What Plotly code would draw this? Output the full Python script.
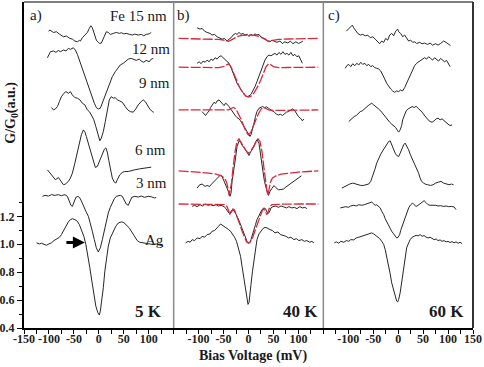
import plotly.graph_objects as go

# Tunneling conductance G/G0 vs bias (mV), curves.
# Each curve is a list of (bias mV, G/G0) pairs, already offset as plotted.

# ---- a) 5 K ----
a_fe15 = [(-101, 2.526), (-98, 2.534), (-91, 2.517), (-85, 2.522), (-79, 2.505), (-75, 2.498),
          (-71, 2.486), (-65, 2.491), (-58, 2.474), (-53, 2.469), (-48, 2.455), (-43, 2.450),
          (-39, 2.460), (-37, 2.455), (-33, 2.479), (-28, 2.498), (-23, 2.517), (-19, 2.546),
          (-16, 2.565), (-13, 2.550), (-9, 2.510), (-5, 2.462), (-1, 2.446), (2, 2.438),
          (5, 2.441), (9, 2.474), (12, 2.510), (15, 2.522), (19, 2.517), (23, 2.503),
          (29, 2.510), (35, 2.517), (41, 2.510), (45, 2.515), (50, 2.507), (55, 2.510),
          (62, 2.503), (67, 2.498), (72, 2.505), (79, 2.498), (85, 2.503), (90, 2.493),
          (95, 2.503), (101, 2.507), (105, 2.517)]
a_12 = [(-103, 2.336), (-99, 2.367), (-97, 2.379), (-91, 2.384), (-86, 2.374), (-81, 2.388),
        (-77, 2.379), (-71, 2.391), (-66, 2.384), (-61, 2.403), (-57, 2.396), (-51, 2.407),
        (-47, 2.391), (-43, 2.360), (-39, 2.319), (-35, 2.272), (-30, 2.224), (-26, 2.176),
        (-21, 2.141), (-17, 2.093), (-13, 2.046), (-9, 2.010), (-5, 1.979), (-1, 1.969),
        (3, 1.974), (7, 2.010), (12, 2.057), (17, 2.105), (22, 2.153), (27, 2.200),
        (33, 2.236), (38, 2.260), (43, 2.284), (49, 2.296), (54, 2.312), (59, 2.326),
        (65, 2.331), (70, 2.324), (75, 2.317), (81, 2.326), (85, 2.312), (90, 2.303),
        (95, 2.317), (101, 2.307), (105, 2.326), (109, 2.331)]
a_9 = [(-95, 1.979), (-91, 1.962), (-87, 1.969), (-83, 1.986), (-79, 2.022), (-75, 2.057),
       (-70, 2.081), (-66, 2.093), (-61, 2.081), (-57, 2.093), (-53, 2.069), (-48, 2.050),
       (-43, 2.046), (-38, 2.034), (-33, 2.010), (-28, 1.998), (-23, 1.962), (-19, 1.950),
       (-15, 1.926), (-10, 1.891), (-6, 1.843), (-2, 1.784), (2, 1.741), (5, 1.760),
       (9, 1.807), (13, 1.879), (17, 1.974), (21, 2.034), (25, 2.057), (29, 2.046),
       (33, 2.050), (37, 2.034), (42, 2.026), (47, 2.017), (53, 1.986), (58, 1.962),
       (63, 1.950), (69, 1.946), (74, 1.969), (79, 1.998), (85, 2.022), (89, 2.034),
       (93, 2.022), (97, 1.993), (102, 1.969), (107, 1.950), (110, 1.946)]
a_6 = [(-103, 1.533), (-98, 1.509), (-91, 1.474), (-87, 1.462), (-81, 1.478), (-76, 1.455),
       (-71, 1.426), (-67, 1.431), (-61, 1.450), (-57, 1.474), (-53, 1.509), (-48, 1.581),
       (-43, 1.664), (-39, 1.736), (-35, 1.784), (-31, 1.819), (-28, 1.805), (-25, 1.771),
       (-20, 1.712), (-16, 1.652), (-11, 1.593), (-7, 1.550), (-3, 1.557), (2, 1.605),
       (7, 1.640), (11, 1.680), (14, 1.690), (17, 1.660), (20, 1.600), (23, 1.540),
       (27, 1.474), (31, 1.445), (34, 1.438), (37, 1.462), (42, 1.497), (47, 1.514),
       (52, 1.521), (59, 1.521), (65, 1.528), (72, 1.533), (82, 1.540), (92, 1.545),
       (99, 1.550), (105, 1.552)]
a_3 = [(-113, 1.343), (-108, 1.350), (-101, 1.345), (-95, 1.355), (-88, 1.350), (-81, 1.355),
       (-75, 1.348), (-68, 1.355), (-63, 1.343), (-59, 1.312), (-56, 1.279), (-53, 1.271),
       (-49, 1.302), (-46, 1.336), (-42, 1.343), (-38, 1.331), (-34, 1.302), (-30, 1.264),
       (-26, 1.236), (-21, 1.200), (-17, 1.152), (-13, 1.093), (-9, 1.033), (-5, 0.974),
       (-1, 0.945), (3, 0.974), (7, 1.033), (11, 1.105), (15, 1.176), (19, 1.224),
       (23, 1.264), (27, 1.295), (31, 1.326), (35, 1.343), (39, 1.345), (43, 1.350),
       (47, 1.343), (51, 1.319), (55, 1.288), (59, 1.279), (62, 1.307), (66, 1.336),
       (72, 1.343), (79, 1.338), (85, 1.345), (92, 1.336), (99, 1.343), (105, 1.340),
       (112, 1.331), (115, 1.336)]
a_ag = [(-125, 1.010), (-119, 1.002), (-115, 1.007), (-110, 0.998), (-105, 0.993), (-100, 1.002),
        (-95, 1.010), (-90, 1.026), (-85, 1.040), (-79, 1.050), (-75, 1.069), (-70, 1.105),
        (-66, 1.129), (-61, 1.160), (-57, 1.176), (-53, 1.183), (-48, 1.176), (-43, 1.164),
        (-39, 1.140), (-35, 1.105), (-30, 1.057), (-26, 0.998), (-22, 0.926), (-18, 0.831),
        (-14, 0.736), (-10, 0.640), (-6, 0.557), (-2, 0.510), (1, 0.493), (3, 0.521),
        (6, 0.593), (9, 0.688), (12, 0.807), (15, 0.902), (19, 0.986), (23, 1.045),
        (29, 1.093), (34, 1.129), (39, 1.152), (45, 1.160), (50, 1.155), (55, 1.140),
        (61, 1.117), (66, 1.088), (71, 1.057), (77, 1.026), (82, 1.014), (89, 1.010),
        (95, 1.005), (102, 1.002), (109, 0.998), (115, 1.002), (122, 0.993), (129, 0.986)]

# ---- b) 40 K ----
b_fe15 = [(-103, 2.550), (-97, 2.541), (-93, 2.546), (-88, 2.526), (-83, 2.517), (-77, 2.510),
          (-73, 2.498), (-68, 2.503), (-63, 2.486), (-57, 2.474), (-53, 2.469), (-48, 2.474),
          (-43, 2.455), (-39, 2.469), (-35, 2.479), (-31, 2.498), (-26, 2.510), (-23, 2.503),
          (-19, 2.517), (-15, 2.503), (-11, 2.510), (-7, 2.498), (-3, 2.505), (1, 2.488),
          (5, 2.503), (9, 2.493), (13, 2.507), (17, 2.498), (21, 2.503), (25, 2.484),
          (29, 2.479), (34, 2.469), (39, 2.455), (43, 2.450), (47, 2.462), (52, 2.455),
          (57, 2.446), (63, 2.455), (68, 2.438), (73, 2.450), (79, 2.441), (84, 2.455),
          (89, 2.436), (95, 2.450), (100, 2.438), (105, 2.446), (109, 2.455)]
b_12 = [(-103, 2.296), (-99, 2.307), (-95, 2.293), (-91, 2.312), (-87, 2.303), (-83, 2.319),
        (-79, 2.307), (-75, 2.326), (-71, 2.317), (-67, 2.336), (-63, 2.326), (-59, 2.343),
        (-55, 2.350), (-51, 2.336), (-47, 2.326), (-43, 2.312), (-39, 2.296), (-35, 2.265),
        (-31, 2.224), (-27, 2.184), (-23, 2.153), (-19, 2.129), (-15, 2.105), (-11, 2.081),
        (-7, 2.065), (-3, 2.057), (1, 2.062), (5, 2.074), (9, 2.098), (13, 2.129),
        (17, 2.165), (21, 2.207), (25, 2.248), (29, 2.288), (33, 2.319), (37, 2.343),
        (41, 2.355), (45, 2.350), (49, 2.360), (53, 2.367), (57, 2.355), (61, 2.374),
        (65, 2.360), (69, 2.379), (73, 2.360), (77, 2.367), (81, 2.355), (85, 2.374),
        (89, 2.350), (93, 2.360), (97, 2.343), (101, 2.350), (105, 2.319), (108, 2.296)]
b_9 = [(-93, 1.950), (-89, 1.931), (-86, 1.922), (-83, 1.938), (-79, 1.955), (-76, 1.979),
       (-73, 1.998), (-69, 2.017), (-66, 2.007), (-63, 2.026), (-59, 2.034), (-56, 2.022),
       (-53, 2.003), (-49, 1.993), (-46, 2.010), (-43, 2.003), (-39, 1.986), (-36, 1.969),
       (-33, 1.950), (-29, 1.926), (-26, 1.919), (-23, 1.907), (-19, 1.898), (-16, 1.884),
       (-13, 1.867), (-9, 1.850), (-6, 1.831), (-3, 1.812), (1, 1.788), (3, 1.772),
       (5, 1.784), (8, 1.819), (11, 1.867), (14, 1.915), (17, 1.950), (21, 1.974),
       (24, 1.979), (28, 1.986), (32, 1.979), (36, 1.984), (40, 1.974), (44, 1.962),
       (48, 1.955), (52, 1.946), (56, 1.931), (60, 1.926), (64, 1.931), (68, 1.922),
       (72, 1.936), (76, 1.946), (80, 1.950), (84, 1.962), (88, 1.969), (92, 1.960),
       (96, 1.938), (100, 1.915), (104, 1.903), (108, 1.884), (111, 1.898)]
b_6 = [(-103, 1.402), (-98, 1.426), (-93, 1.431), (-87, 1.414), (-83, 1.421), (-78, 1.414),
       (-74, 1.431), (-69, 1.450), (-65, 1.469), (-61, 1.479), (-56, 1.497), (-53, 1.486),
       (-49, 1.455), (-46, 1.426), (-43, 1.407), (-39, 1.367), (-37, 1.343), (-35, 1.367),
       (-33, 1.450), (-29, 1.533), (-26, 1.617), (-23, 1.700), (-19, 1.740), (-16, 1.736),
       (-13, 1.707), (-9, 1.693), (-6, 1.676), (-3, 1.652), (1, 1.636), (4, 1.659),
       (7, 1.676), (11, 1.700), (14, 1.731), (17, 1.748), (21, 1.724), (23, 1.664),
       (26, 1.593), (29, 1.521), (32, 1.450), (35, 1.402), (38, 1.367), (40, 1.350),
       (43, 1.379), (47, 1.400), (51, 1.420), (55, 1.405), (60, 1.390), (65, 1.392),
       (70, 1.395), (75, 1.410), (81, 1.426), (87, 1.445), (94, 1.462), (101, 1.478),
       (106, 1.490)]
b_3 = [(-113, 1.271), (-108, 1.279), (-103, 1.269), (-97, 1.283), (-92, 1.274), (-87, 1.288),
       (-81, 1.279), (-76, 1.283), (-71, 1.276), (-65, 1.283), (-60, 1.274), (-55, 1.279),
       (-49, 1.269), (-45, 1.255), (-41, 1.231), (-37, 1.217), (-35, 1.236), (-32, 1.248),
       (-29, 1.240), (-26, 1.224), (-23, 1.200), (-19, 1.169), (-16, 1.140), (-13, 1.105),
       (-9, 1.074), (-6, 1.045), (-3, 1.021), (0, 1.007), (3, 1.014), (5, 1.033),
       (8, 1.064), (11, 1.098), (14, 1.140), (17, 1.176), (21, 1.207), (24, 1.231),
       (27, 1.248), (31, 1.260), (34, 1.255), (37, 1.231), (40, 1.221), (43, 1.240),
       (45, 1.260), (49, 1.269), (55, 1.274), (60, 1.264), (65, 1.274), (71, 1.267),
       (76, 1.260), (81, 1.269), (87, 1.260), (92, 1.264), (97, 1.255), (103, 1.269),
       (108, 1.260), (113, 1.264), (117, 1.255)]
b_ag = [(-126, 1.010), (-121, 1.021), (-117, 1.014), (-113, 1.033), (-108, 1.026), (-103, 1.045),
        (-97, 1.040), (-93, 1.057), (-88, 1.050), (-83, 1.069), (-77, 1.074), (-73, 1.093),
        (-68, 1.098), (-64, 1.117), (-60, 1.129), (-56, 1.145), (-52, 1.136), (-48, 1.121),
        (-44, 1.117), (-40, 1.105), (-36, 1.093), (-32, 1.074), (-28, 1.050), (-24, 1.021),
        (-20, 0.974), (-16, 0.914), (-13, 0.843), (-9, 0.760), (-6, 0.676), (-3, 0.605),
        (-1, 0.569), (1, 0.581), (3, 0.629), (5, 0.712), (8, 0.807), (11, 0.890),
        (14, 0.974), (17, 1.033), (21, 1.074), (25, 1.098), (29, 1.112), (33, 1.121),
        (37, 1.117), (43, 1.105), (48, 1.098), (53, 1.081), (59, 1.088), (64, 1.069),
        (69, 1.064), (75, 1.057), (80, 1.045), (85, 1.050), (91, 1.033), (96, 1.040),
        (101, 1.026), (107, 1.033), (112, 1.021), (117, 1.026), (123, 1.014), (127, 1.021),
        (131, 1.010)]

# model fits (red dashed) in panel b
b_fe15_fit = [(-140, 2.474), (-110, 2.472), (-80, 2.470), (-60, 2.467), (-50, 2.462), (-44, 2.457),
              (-40, 2.454), (-36, 2.460), (-30, 2.474), (-22, 2.488), (-12, 2.496), (0, 2.499),
              (12, 2.496), (22, 2.488), (30, 2.474), (36, 2.460), (40, 2.454), (44, 2.457),
              (50, 2.462), (60, 2.467), (80, 2.470), (110, 2.472), (140, 2.474)]
b_12_fit = [(-140, 2.268), (-110, 2.268), (-80, 2.266), (-60, 2.265), (-50, 2.272), (-45, 2.285),
            (-40, 2.292), (-35, 2.270), (-30, 2.225), (-25, 2.180), (-20, 2.140), (-15, 2.105),
            (-10, 2.078), (-5, 2.060), (0, 2.054), (5, 2.060), (10, 2.078), (15, 2.105),
            (20, 2.140), (25, 2.180), (30, 2.225), (35, 2.270), (40, 2.292), (45, 2.285),
            (50, 2.272), (60, 2.265), (80, 2.266), (110, 2.268), (140, 2.268)]
b_9_fit = [(-140, 1.962), (-100, 1.962), (-70, 1.960), (-50, 1.958), (-40, 1.962), (-35, 1.972),
           (-30, 1.980), (-25, 1.968), (-20, 1.935), (-15, 1.895), (-10, 1.850), (-5, 1.805),
           (0, 1.782), (5, 1.805), (10, 1.850), (15, 1.895), (20, 1.935), (25, 1.968),
           (30, 1.980), (35, 1.972), (40, 1.962), (50, 1.958), (70, 1.960), (100, 1.962),
           (140, 1.962)]
b_6_fit = [(-140, 1.526), (-120, 1.521), (-100, 1.517), (-80, 1.510), (-65, 1.502), (-55, 1.490),
           (-48, 1.474), (-44, 1.445), (-41, 1.400), (-39, 1.350), (-37, 1.385), (-34, 1.440),
           (-31, 1.545), (-27, 1.664), (-23, 1.736), (-19, 1.755), (-15, 1.730), (-10, 1.700),
           (-5, 1.670), (0, 1.652), (5, 1.670), (10, 1.700), (15, 1.730), (19, 1.755),
           (23, 1.736), (27, 1.664), (31, 1.545), (34, 1.440), (37, 1.385), (39, 1.350),
           (41, 1.400), (44, 1.445), (48, 1.474), (55, 1.490), (65, 1.502), (80, 1.510),
           (100, 1.517), (120, 1.521), (140, 1.526)]
b_3_fit = [(-140, 1.288), (-100, 1.288), (-70, 1.287), (-55, 1.286), (-47, 1.284), (-43, 1.270),
           (-40, 1.240), (-37, 1.212), (-34, 1.232), (-31, 1.252), (-28, 1.245), (-24, 1.210),
           (-20, 1.170), (-16, 1.128), (-12, 1.085), (-8, 1.045), (-4, 1.018), (0, 1.008),
           (4, 1.018), (8, 1.045), (12, 1.085), (16, 1.128), (20, 1.170), (24, 1.210),
           (28, 1.245), (31, 1.252), (34, 1.232), (37, 1.212), (40, 1.240), (43, 1.270),
           (47, 1.284), (55, 1.286), (70, 1.287), (100, 1.288), (140, 1.288)]

# ---- c) 60 K ----
c_fe15 = [(-104, 2.526), (-99, 2.541), (-95, 2.557), (-92, 2.569), (-89, 2.550), (-85, 2.526),
          (-81, 2.510), (-76, 2.498), (-71, 2.503), (-66, 2.493), (-61, 2.498), (-56, 2.479),
          (-51, 2.486), (-46, 2.469), (-41, 2.450), (-37, 2.436), (-33, 2.455), (-29, 2.446),
          (-25, 2.474), (-21, 2.462), (-17, 2.498), (-13, 2.510), (-9, 2.493), (-5, 2.526),
          (-1, 2.541), (1, 2.522), (5, 2.510), (9, 2.486), (13, 2.498), (17, 2.474),
          (21, 2.455), (25, 2.462), (29, 2.446), (33, 2.450), (37, 2.438), (43, 2.446),
          (48, 2.436), (53, 2.441), (59, 2.431), (64, 2.441), (69, 2.426), (75, 2.436),
          (80, 2.426), (85, 2.438), (91, 2.455), (96, 2.446), (101, 2.431), (105, 2.422)]
c_12 = [(-106, 2.260), (-103, 2.279), (-99, 2.288), (-95, 2.272), (-91, 2.293), (-87, 2.279),
        (-83, 2.296), (-79, 2.284), (-75, 2.303), (-71, 2.288), (-67, 2.296), (-63, 2.279),
        (-59, 2.288), (-55, 2.272), (-51, 2.279), (-47, 2.265), (-43, 2.260), (-39, 2.255),
        (-35, 2.241), (-31, 2.217), (-27, 2.184), (-23, 2.153), (-19, 2.129), (-15, 2.112),
        (-11, 2.098), (-7, 2.088), (-3, 2.098), (1, 2.093), (5, 2.105), (9, 2.098),
        (13, 2.122), (17, 2.153), (21, 2.188), (25, 2.224), (29, 2.255), (33, 2.279),
        (37, 2.296), (41, 2.307), (45, 2.319), (49, 2.326), (53, 2.336), (57, 2.326),
        (61, 2.343), (65, 2.331), (69, 2.319), (73, 2.336), (77, 2.326), (81, 2.312),
        (85, 2.331), (89, 2.319), (93, 2.307), (97, 2.317), (101, 2.296), (104, 2.272)]
c_9 = [(-99, 1.879), (-96, 1.891), (-92, 1.903), (-88, 1.915), (-84, 1.922), (-80, 1.938),
       (-76, 1.950), (-72, 1.955), (-68, 1.969), (-64, 1.979), (-60, 1.993), (-56, 2.003),
       (-53, 2.010), (-49, 1.998), (-45, 1.986), (-41, 1.979), (-37, 1.962), (-33, 1.946),
       (-29, 1.926), (-25, 1.907), (-21, 1.891), (-17, 1.874), (-13, 1.860), (-9, 1.850),
       (-5, 1.836), (-1, 1.812), (1, 1.803), (4, 1.819), (7, 1.850), (9, 1.891),
       (12, 1.926), (16, 1.955), (20, 1.969), (24, 1.979), (28, 1.986), (32, 1.979),
       (36, 1.988), (40, 1.974), (44, 1.962), (48, 1.946), (52, 1.926), (56, 1.907),
       (60, 1.891), (64, 1.879), (68, 1.874), (72, 1.884), (76, 1.898), (80, 1.903),
       (84, 1.891), (88, 1.898), (92, 1.884), (96, 1.874), (100, 1.860), (104, 1.850),
       (108, 1.855)]
c_6 = [(-113, 1.402), (-107, 1.414), (-102, 1.421), (-97, 1.431), (-91, 1.438), (-86, 1.431),
       (-81, 1.426), (-75, 1.421), (-70, 1.421), (-65, 1.426), (-59, 1.431), (-55, 1.450),
       (-51, 1.486), (-47, 1.533), (-43, 1.581), (-39, 1.617), (-35, 1.645), (-31, 1.669),
       (-27, 1.693), (-23, 1.717), (-19, 1.736), (-16, 1.740), (-13, 1.712), (-9, 1.676),
       (-6, 1.652), (-3, 1.636), (1, 1.628), (4, 1.652), (7, 1.683), (11, 1.712),
       (14, 1.724), (17, 1.707), (21, 1.676), (24, 1.645), (27, 1.621), (31, 1.597),
       (34, 1.569), (37, 1.540), (41, 1.509), (44, 1.474), (47, 1.450), (51, 1.438),
       (54, 1.431), (59, 1.426), (65, 1.421), (70, 1.426), (75, 1.438), (81, 1.445),
       (86, 1.450), (91, 1.438), (97, 1.431), (102, 1.426), (107, 1.431), (111, 1.426)]
c_3 = [(-116, 1.260), (-111, 1.264), (-105, 1.269), (-100, 1.264), (-95, 1.274), (-89, 1.279),
       (-84, 1.274), (-79, 1.283), (-73, 1.279), (-68, 1.283), (-63, 1.288), (-57, 1.293),
       (-53, 1.302), (-49, 1.288), (-46, 1.279), (-43, 1.283), (-39, 1.271), (-36, 1.260),
       (-33, 1.236), (-29, 1.212), (-26, 1.183), (-23, 1.160), (-19, 1.136), (-16, 1.112),
       (-13, 1.093), (-9, 1.074), (-6, 1.060), (-3, 1.045), (0, 1.050), (3, 1.069),
       (5, 1.098), (8, 1.129), (11, 1.164), (14, 1.200), (17, 1.231), (21, 1.260),
       (25, 1.283), (29, 1.295), (32, 1.283), (36, 1.271), (40, 1.279), (44, 1.288),
       (48, 1.302), (52, 1.312), (56, 1.298), (60, 1.283), (64, 1.279), (69, 1.281),
       (75, 1.279), (80, 1.274), (85, 1.276), (91, 1.271), (96, 1.274), (101, 1.269),
       (107, 1.271), (112, 1.267), (116, 1.248)]
c_ag = [(-128, 1.010), (-124, 1.017), (-119, 1.007), (-115, 1.021), (-109, 1.014), (-104, 1.026),
        (-99, 1.021), (-95, 1.033), (-89, 1.031), (-84, 1.045), (-79, 1.050), (-73, 1.057),
        (-68, 1.062), (-63, 1.069), (-57, 1.074), (-53, 1.081), (-49, 1.074), (-45, 1.064),
        (-41, 1.055), (-37, 1.040), (-33, 1.021), (-29, 0.998), (-26, 0.962), (-23, 0.914),
        (-19, 0.855), (-16, 0.788), (-13, 0.724), (-9, 0.664), (-6, 0.621), (-3, 0.593),
        (-1, 0.586), (1, 0.605), (4, 0.652), (7, 0.724), (9, 0.795), (12, 0.867),
        (15, 0.926), (17, 0.974), (21, 1.010), (24, 1.033), (28, 1.050), (32, 1.057),
        (36, 1.064), (40, 1.060), (44, 1.069), (48, 1.057), (52, 1.062), (56, 1.050),
        (60, 1.045), (64, 1.050), (68, 1.040), (72, 1.033), (76, 1.038), (80, 1.026),
        (84, 1.031), (88, 1.021), (92, 1.026), (96, 1.017), (100, 1.021), (104, 1.012),
        (108, 1.019), (112, 1.010), (116, 1.017), (120, 1.007), (124, 1.014), (128, 1.005)]

SERIF = "Liberation Serif, Times New Roman, serif"
INK = "#262626"
FIT_RED = "#d8283c"

panels = {
    "x": [a_fe15, a_12, a_9, a_6, a_3, a_ag],
    "x2": [b_fe15, b_12, b_9, b_6, b_3, b_ag],
    "x3": [c_fe15, c_12, c_9, c_6, c_3, c_ag],
}
fits = [b_fe15_fit, b_12_fit, b_9_fit, b_6_fit, b_3_fit]

fig = go.Figure()

for axis, curves in panels.items():
    for curve in curves:
        mv, g = zip(*curve)
        fig.add_trace(go.Scatter(x=mv, y=g, xaxis=axis, yaxis="y", mode="lines",
                                 line=dict(color=INK, width=1), hoverinfo="skip",
                                 showlegend=False))

for curve in fits:
    mv, g = zip(*curve)
    fig.add_trace(go.Scatter(x=mv, y=g, xaxis="x2", yaxis="y", mode="lines",
                             line=dict(color=FIT_RED, width=1.3, dash="10px,2px"),
                             hoverinfo="skip", showlegend=False))

tick_font = dict(family=SERIF, size=12, color="#222", weight="bold")


def x_axis(domain, labelled):
    vals = list(range(-150, 151, 25))
    text = [str(v) if v in labelled else "" for v in vals]
    return dict(domain=domain, range=[-150, 150], anchor="y",
                tickmode="array", tickvals=vals, ticktext=text,
                ticks="outside", ticklen=4, tickwidth=1, tickcolor="black",
                ticklabelstandoff=-5,
                showline=True, linecolor="black", linewidth=2,
                showgrid=False, zeroline=False, tickfont=tick_font)


fig.update_layout(
    width=484, height=367,
    margin=dict(l=24, r=11, t=2, b=39, autoexpand=False),
    paper_bgcolor="white", plot_bgcolor="white",
    xaxis=x_axis([0, 1 / 3], [-150, -100, -50, 0, 50, 100]),
    xaxis2=x_axis([1 / 3, 2 / 3], [-100, -50, 0, 50, 100]),
    xaxis3=x_axis([2 / 3, 1], [-100, -50, 0, 50, 100, 150]),
    yaxis=dict(domain=[0, 1], range=[0.4, 2.735], anchor="x",
               tickmode="array", tickvals=[0.4, 0.6, 0.8, 1.0, 1.2],
               ticktext=["0.4", "0.6", "0.8", "1.0", "1.2"],
               ticks="outside", ticklen=5, tickwidth=1, tickcolor="black",
               minor=dict(tickvals=[0.5, 0.7, 0.9, 1.1, 1.3], ticks="outside",
                          ticklen=3, tickcolor="black"),
               showline=True, linecolor="black", linewidth=2,
               showgrid=False, zeroline=False, tickfont=tick_font),
)

# frame: top/right edges and panel separators
fig.add_shape(type="line", xref="paper", yref="paper", x0=0, x1=1, y0=1, y1=1,
              line=dict(color="#555", width=1.5))
fig.add_shape(type="line", xref="paper", yref="paper", x0=1, x1=1, y0=0, y1=1,
              line=dict(color="#333", width=2))
for xs in (1 / 3, 2 / 3):
    fig.add_shape(type="line", xref="paper", yref="paper", x0=xs, x1=xs, y0=0, y1=1,
                  line=dict(color="#8a8a8a", width=1.5))

labels = [
    ("x", -126, 2.635, "a)", 15, False),
    ("x", 79, 2.635, "Fe 15 nm", 15, False),
    ("x", 105, 2.40, "12 nm", 15, False),
    ("x", 112, 2.155, "9 nm", 15, False),
    ("x", 104, 1.675, "6 nm", 15, False),
    ("x", 105, 1.437, "3 nm", 15, False),
    ("x", 112, 1.03, "Ag", 15, False),
    ("x", 100, 0.515, "5 K", 17, True),
    ("x2", -130, 2.635, "b)", 15, False),
    ("x2", 104, 0.515, "40 K", 17, True),
    ("x3", -128, 2.635, "c)", 15, False),
    ("x3", 97, 0.515, "60 K", 17, True),
]
for axis, x, y, text, size, bold in labels:
    fig.add_annotation(xref=axis, yref="y", x=x, y=y, showarrow=False,
                       xanchor="center", yanchor="middle",
                       text=f"<b>{text}</b>" if bold else text,
                       font=dict(family=SERIF, size=size, color="#1a1a1a"))

# arrow marking the Ag curve
fig.add_annotation(xref="x", yref="y", axref="x", ayref="y", x=-28, y=1.013,
                   ax=-68, ay=1.013, showarrow=True, arrowhead=2, arrowsize=0.8,
                   arrowwidth=3, arrowcolor="black", text="")

fig.add_annotation(xref="paper", yref="paper", x=-0.027, y=0.66, showarrow=False,
                   xanchor="center", yanchor="middle", textangle=-90,
                   text="<b>G/G<sub>0</sub>(a.u.)</b>",
                   font=dict(family=SERIF, size=14, color="#1a1a1a"))
fig.add_annotation(xref="paper", yref="paper", x=0.511, y=-0.086, showarrow=False,
                   xanchor="center", yanchor="middle",
                   text="<b>Bias Voltage (mV)</b>",
                   font=dict(family=SERIF, size=14, color="#1a1a1a"))

# drop the default page margin so the 484x367 figure sits at the window origin
fig.write_html("out.html", config={"displayModeBar": False},
               post_script="document.body.style.margin = '0';")
